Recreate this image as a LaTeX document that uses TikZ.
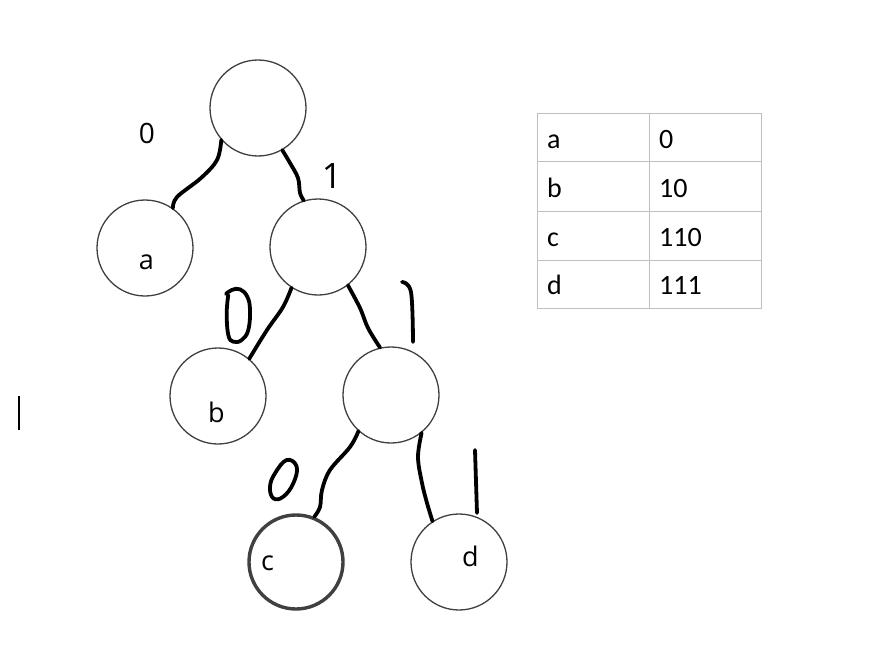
\documentclass[tikz,border=0pt]{standalone}
\usepackage{fontspec}
\setmainfont{Open Sans}
\newfontfamily\tabfont{Carlito}
\begin{document}
\begin{tikzpicture}[x=1pt,y=-1pt,
  vert/.style={circle, draw=black!75, line width=1.3pt, minimum size=96pt, inner sep=0pt},
  hand/.style={line width=3.8pt, line cap=round, line join=round},
  lbl/.style={anchor=base, inner sep=0pt, font=\fontsize{27}{30}\selectfont},
  bit/.style={anchor=base, inner sep=0pt},
  cell/.style={anchor=base west, inner sep=0pt, font=\tabfont\fontsize{28}{32}\selectfont},
  grid/.style={draw=black!25, line width=1pt}]
\useasboundingbox[fill=white] (0,0) rectangle (873,669);

% tree nodes
\node[vert] (root) at (258,108) {};
\node[vert] (a) at (145,248) {};
\node[vert] (n1) at (318,247) {};
\node[vert] (b) at (218,396) {};
\node[vert] (n2) at (391,395) {};
\node[vert, line width=3.4pt, draw=black!75, minimum size=94pt] (c) at (296,562) {};
\node[vert] (d) at (459,562) {};

% leaf letters
\node[lbl] (la) at (146.5,269) {a};
\node[lbl] (lb) at (216.5,422) {b};
\node[lbl] (lc) at (267.5,570) {c};
\node[lbl] (ld) at (470.5,566) {d};

% typed bit labels
\node[bit, font=\fontsize{28}{32}\selectfont] (z0) at (147,143) {0};
\node[bit, font=\fontsize{35}{38}\selectfont] (o1) at (332,188) {1};

% hand-drawn connectors
\draw[hand] plot[smooth, tension=0.6] coordinates {(root.221) (217,160) (201,178) (177,197) (a.55)};
\draw[hand] plot[smooth, tension=0.6] coordinates {(root.300) (290,163) (298,178) (300,193) (n1.107)};
\draw[hand] plot[smooth, tension=0.6] coordinates {(n1.237) (283,307) (267,330) (b.50)};
\draw[hand] plot[smooth, tension=0.6] coordinates {(n1.308) (360,308) (368,328) (n2.103)};
\draw[hand] plot[smooth, tension=0.6] coordinates {(n2.228) (350,447) (330,470) (322,490) (320,507) (c.68)};
\draw[hand] plot[smooth, tension=0.6] coordinates {(n2.309) (418,457) (422,483) (427,503) (d.123)};

% hand-drawn bits
\draw[hand] plot[smooth, tension=0.7] coordinates {(226,294) (231.7,290) (240,289.3) (247.3,296.7) (250,310) (248.3,330) (241.7,340) (233.3,341.7) (228.3,335) (226.7,313) (228.3,295)};
\draw[hand] plot[smooth cycle, tension=0.7] coordinates {(286.7,460) (296.7,466.7) (293.3,483.3) (283.3,496.7) (273.3,498.3) (270,486.7) (275,473.3)};
\draw[hand] plot[smooth, tension=0.6] coordinates {(402,282) (411,292) (413,342)};
\draw[hand] (475,450) -- (477,513);

% text cursor
\draw[line width=1.6pt] (19,396) -- (19,430);

% code table
\draw[grid] (537,113) rectangle (761,308);
\draw[grid] (649,113) -- (649,308);
\draw[grid] (537,161.7) -- (761,161.7);
\draw[grid] (537,211) -- (761,211);
\draw[grid] (537,260) -- (761,260);
\node[cell] (ta) at (547,148) {a};
\node[cell] (tca) at (659,148) {0};
\node[cell] (tb) at (547,197) {b};
\node[cell] (tcb) at (659,197) {10};
\node[cell] (tc) at (547,246) {c};
\node[cell] (tcc) at (659,246) {110};
\node[cell] (td) at (547,294) {d};
\node[cell] (tcd) at (659,294) {111};
\end{tikzpicture}
\end{document}
